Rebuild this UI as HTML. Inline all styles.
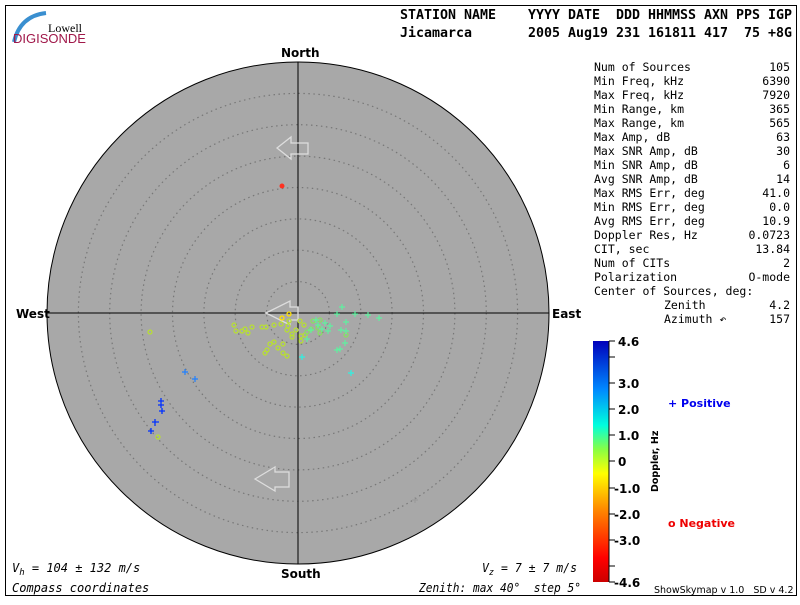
<!DOCTYPE html>
<html><head><meta charset="utf-8"><style>
body{margin:0;background:#fff;}
svg{font-family:"DejaVu Sans Mono","Liberation Mono",monospace;}
svg text{white-space:pre;}
.sans{font-family:"DejaVu Sans","Liberation Sans",sans-serif;}
</style></head><body>
<svg width="800" height="600" xmlns="http://www.w3.org/2000/svg" xml:space="preserve">
<defs>
<linearGradient id="cb" x1="0" y1="1" x2="0" y2="0">
<stop offset="0" stop-color="#cc0000"/><stop offset="0.1" stop-color="#ff0000"/><stop offset="0.3" stop-color="#ff8800"/><stop offset="0.45" stop-color="#ffff00"/><stop offset="0.55" stop-color="#88ff44"/><stop offset="0.65" stop-color="#00ffdd"/><stop offset="0.8" stop-color="#0088ff"/><stop offset="1" stop-color="#0000bb"/>
</linearGradient>
</defs>
<rect x="5.5" y="5.5" width="791" height="590" fill="none" stroke="#000"/>
<path d="M14 42 Q20 16 46 13" stroke="#3a8fd0" stroke-width="4" fill="none"/>
<text x="48" y="32" font-size="12" style="font-family:'Liberation Serif',serif">Lowell</text>
<text x="13" y="43" font-size="13" fill="#a0184a" style="font-family:'Liberation Sans',sans-serif">DIGISONDE</text>
<g font-size="13" font-weight="bold">
<text x="400" y="19" textLength="392" lengthAdjust="spacingAndGlyphs">STATION NAME    YYYY DATE  DDD HHMMSS AXN PPS IGP</text>
<text x="400" y="37" textLength="392" lengthAdjust="spacingAndGlyphs">Jicamarca       2005 Aug19 231 161811 417  75 +8G</text>
</g>
<circle cx="298" cy="313" r="251" fill="#a8a8a8" stroke="#000" stroke-width="1"/>
<g fill="none" stroke="#777" stroke-dasharray="1.5 3.5" stroke-width="1.2">
<circle cx="298" cy="313" r="31.4"/><circle cx="298" cy="313" r="62.8"/><circle cx="298" cy="313" r="94.1"/><circle cx="298" cy="313" r="125.5"/><circle cx="298" cy="313" r="156.9"/><circle cx="298" cy="313" r="188.3"/><circle cx="298" cy="313" r="219.6"/>
</g>
<line x1="298" y1="62" x2="298" y2="564" stroke="#000"/>
<line x1="47" y1="313" x2="549" y2="313" stroke="#000"/>
<g fill="none" stroke="#ddd" stroke-width="1.3">
<path d="M277 148 L291 137 L291 143 L308 143 L308 154 L291 154 L291 159 Z"/>
<path d="M266 313 L290 301 L290 307 L298 307 L298 320 L290 320 L290 325 Z"/>
<path d="M255 479 L275 467 L275 472 L289 472 L289 487 L275 487 L275 491 Z"/>
</g>
<g font-size="12" font-weight="bold" class="sans">
<text x="281" y="57">North</text><text x="281" y="578">South</text>
<text x="16" y="318">West</text><text x="552" y="318">East</text>
</g>
<g fill="none" stroke-width="1.2" stroke="#b8e030">
<circle cx="150" cy="332" r="2"/><circle cx="234" cy="325" r="2"/><circle cx="236" cy="331" r="2"/><circle cx="245" cy="329" r="2"/><circle cx="248" cy="333" r="2"/><circle cx="252" cy="327" r="2"/><circle cx="262" cy="327" r="2"/><circle cx="266" cy="327" r="2"/><circle cx="274" cy="325" r="2"/><circle cx="281" cy="324" r="2"/><circle cx="289" cy="321" r="2"/><circle cx="288" cy="326" r="2"/><circle cx="283" cy="344" r="2"/><circle cx="267" cy="350" r="2"/><circle cx="265" cy="353" r="2"/><circle cx="283" cy="353" r="2"/><circle cx="278" cy="348" r="2"/><circle cx="292" cy="337" r="2"/><circle cx="296" cy="330" r="2"/><circle cx="301" cy="336" r="2"/><circle cx="287" cy="330" r="2"/><circle cx="292" cy="334" r="2"/><circle cx="301" cy="341" r="2"/><circle cx="287" cy="356" r="2"/><circle cx="270" cy="344" r="2"/><circle cx="304" cy="325" r="2"/><circle cx="300" cy="321" r="2"/><circle cx="305" cy="335" r="2"/><circle cx="158" cy="437" r="2"/><circle cx="242" cy="331" r="2"/><circle cx="274" cy="342" r="2"/>
</g>
<g fill="none" stroke-width="1.2" stroke="#88e060">
<circle cx="313" cy="321" r="2"/><circle cx="320" cy="320" r="2"/><circle cx="318" cy="328" r="2"/><circle cx="320" cy="333" r="2"/><circle cx="311" cy="329" r="2"/><circle cx="346" cy="335" r="2"/><circle cx="307" cy="332" r="2"/>
</g>
<circle cx="282" cy="318" r="2" fill="none" stroke="#ffe000" stroke-width="1.3"/>
<circle cx="289" cy="314" r="2" fill="none" stroke="#ffe000" stroke-width="1.3"/>
<circle cx="282" cy="186" r="2" fill="#ff3020" stroke="#ff3020"/>
<g stroke-width="1.2" stroke="#60f0a0">
<path d="M339 307h6M342 304v6M334 314h6M337 311v6M352 314h6M355 311v6M365 315h6M368 312v6M376 318h6M379 315v6M308 330h6M311 327v6M315 325h6M318 322v6M322 323h6M325 320v6M327 326h6M330 323v6M343 322h6M346 319v6M343 331h6M346 328v6M325 331h6M328 328v6M338 330h6M341 327v6M342 343h6M345 340v6M337 349h6M340 346v6M334 350h6M337 347v6M313 320h6M316 317v6M319 329h6M322 326v6M304 339h6M307 336v6"/>
</g>
<g stroke-width="1.2" stroke="#30f0e0"><path d="M299 357h6M302 354v6M348 373h6M351 370v6"/></g>
<g stroke-width="1.2" stroke="#2080ff"><path d="M182 372h6M185 369v6M192 379h6M195 376v6"/></g>
<g stroke-width="1.3" stroke="#0030ff"><path d="M158 401h6M161 398v6M158 405h6M161 402v6M159 411h6M162 408v6M152 422h7M155 419v7M148 431h6M151 428v6"/></g>
<path d="M412 500h6M415 497v6" stroke="#999"/>
<g font-size="11.5">
<text x="594" y="71">Num of Sources</text><text x="790" y="71" text-anchor="end">105</text>
<text x="594" y="85">Min Freq, kHz</text><text x="790" y="85" text-anchor="end">6390</text>
<text x="594" y="99">Max Freq, kHz</text><text x="790" y="99" text-anchor="end">7920</text>
<text x="594" y="113">Min Range, km</text><text x="790" y="113" text-anchor="end">365</text>
<text x="594" y="127">Max Range, km</text><text x="790" y="127" text-anchor="end">565</text>
<text x="594" y="141">Max Amp, dB</text><text x="790" y="141" text-anchor="end">63</text>
<text x="594" y="155">Max SNR Amp, dB</text><text x="790" y="155" text-anchor="end">30</text>
<text x="594" y="169">Min SNR Amp, dB</text><text x="790" y="169" text-anchor="end">6</text>
<text x="594" y="183">Avg SNR Amp, dB</text><text x="790" y="183" text-anchor="end">14</text>
<text x="594" y="197">Max RMS Err, deg</text><text x="790" y="197" text-anchor="end">41.0</text>
<text x="594" y="211">Min RMS Err, deg</text><text x="790" y="211" text-anchor="end">0.0</text>
<text x="594" y="225">Avg RMS Err, deg</text><text x="790" y="225" text-anchor="end">10.9</text>
<text x="594" y="239">Doppler Res, Hz</text><text x="790" y="239" text-anchor="end">0.0723</text>
<text x="594" y="253">CIT, sec</text><text x="790" y="253" text-anchor="end">13.84</text>
<text x="594" y="267">Num of CITs</text><text x="790" y="267" text-anchor="end">2</text>
<text x="594" y="281">Polarization</text><text x="790" y="281" text-anchor="end">O-mode</text>
<text x="594" y="295">Center of Sources, deg:</text>
<text x="664" y="309">Zenith</text><text x="790" y="309" text-anchor="end">4.2</text>
<text x="664" y="323">Azimuth ↶</text><text x="790" y="323" text-anchor="end">157</text>
</g>
<rect x="593" y="341" width="16" height="241" fill="url(#cb)"/>
<line x1="609" y1="341" x2="609" y2="582" stroke="#000"/>
<g stroke="#000"><path d="M609 341h6M609 357h6M609 383h6M609 409h6M609 435h6M609 461h6M609 488h6M609 514h6M609 540h6M609 566h6M609 582h6"/></g>
<g font-size="12" font-weight="bold" class="sans">
<text x="618" y="346">4.6</text><text x="618" y="388">3.0</text><text x="618" y="414">2.0</text><text x="618" y="440">1.0</text><text x="618" y="466">0</text><text x="614" y="493">-1.0</text><text x="614" y="519">-2.0</text><text x="614" y="545">-3.0</text><text x="614" y="587">-4.6</text>
<text x="658" y="492" font-size="9.5" transform="rotate(-90 658 492)">Doppler, Hz</text>
<text x="668" y="407" fill="#0000ee" font-size="11">+ Positive</text>
<text x="668" y="527" fill="#ee0000" font-size="11">o Negative</text>
</g>
<g font-size="12" font-style="italic">
<text x="12" y="572">V<tspan font-size="9" dy="3">h</tspan><tspan dy="-3"> = 104 ± 132 m/s</tspan></text>
<text x="12" y="592">Compass coordinates</text>
<text x="482" y="572" textLength="95" lengthAdjust="spacingAndGlyphs">V<tspan font-size="9" dy="3">z</tspan><tspan dy="-3"> = 7 ± 7 m/s</tspan></text>
<text x="419" y="592" textLength="162" lengthAdjust="spacingAndGlyphs">Zenith: max 40°  step 5°</text>
</g>
<text x="654" y="593" font-size="9.5" class="sans">ShowSkymap v 1.0   SD v 4.2</text>
</svg>
</body></html>
